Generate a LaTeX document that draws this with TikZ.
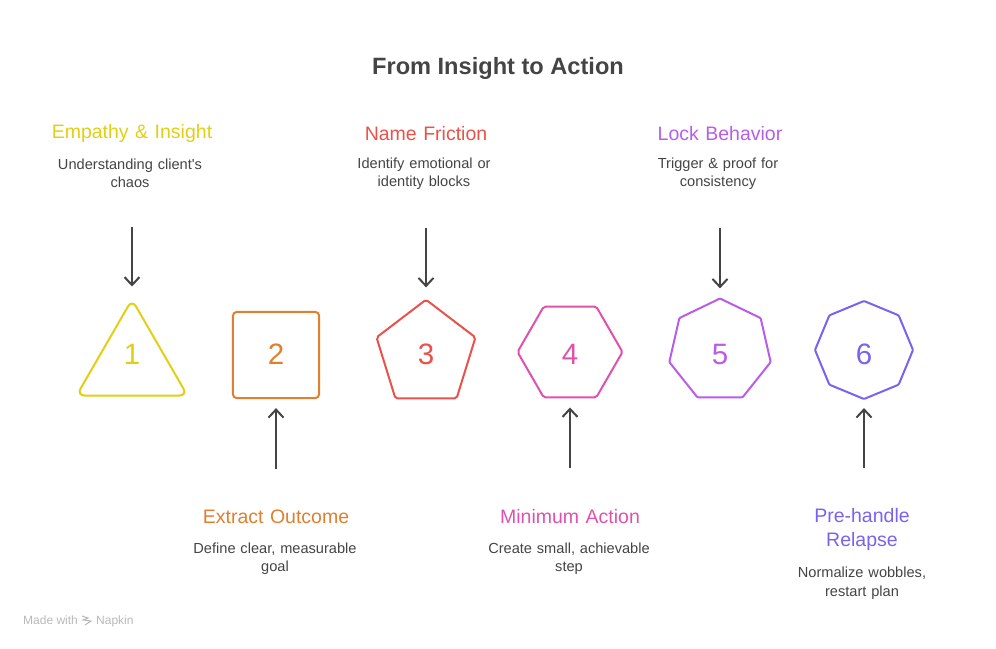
\documentclass[tikz,border=0pt]{standalone}
\usepackage{fontspec}
\setmainfont{Liberation Sans}
\usetikzlibrary{shapes.geometric,arrows.meta}
\definecolor{inkc}{HTML}{444444}
\definecolor{yelc}{HTML}{E2CF13}
\definecolor{orac}{HTML}{E07F2E}
\definecolor{redc}{HTML}{E8524A}
\definecolor{pinc}{HTML}{DE52AE}
\definecolor{purc}{HTML}{B95DE8}
\definecolor{vioc}{HTML}{7A62EE}
\tikzset{
  shapebox/.style={regular polygon,draw=#1,line width=2pt,inner sep=0pt,rounded corners=2pt},
  numlab/.style={text=#1,font=\fontsize{29.5}{30}\selectfont},
  headlab/.style={text=#1,align=center,font=\fontsize{19.5}{24}\selectfont,text width=180pt},
  desclab/.style={text=inkc,align=center,font=\fontsize{14.6}{18.5}\selectfont,text width=180pt},
  footlab/.style={text=black!28,font=\fontsize{12}{14}\selectfont,anchor=base west,inner sep=0pt},
  flow/.style={-{Straight Barb[length=8pt,width=15pt]},line width=2pt,draw=inkc}
}
\begin{document}
\begin{tikzpicture}[x=1pt,y=-1pt]
\useasboundingbox (0,0) rectangle (996,648);
\node[font=\fontsize{23.6}{30}\selectfont\bfseries,text=inkc] (title) at (498,68) {From Insight to Action};
% the six shapes
\node[shapebox=yelc,regular polygon sides=3,minimum size=128pt,rounded corners=8pt] (one) at (132,363.5) {};
\node[shapebox=orac,regular polygon sides=4,minimum size=122pt,rounded corners=4pt] (two) at (276,355) {};
\node[shapebox=redc,regular polygon sides=5,minimum size=104pt,yscale=1.05,transform shape] (three) at (426,354.3) {};
\node[shapebox=pinc,regular polygon sides=6,minimum size=105pt] (four) at (570,352) {};
\node[shapebox=purc,regular polygon sides=7,minimum size=104pt,rounded corners=1pt] (five) at (720,350.5) {};
\node[shapebox=vioc,regular polygon sides=8,shape border rotate=22.5,minimum size=98pt,rounded corners=1pt] (six) at (864,350) {};
% numbers
\foreach \num/\cx/\col in {1/132/yelc,2/276/orac,3/426/redc,4/570/pinc,5/720/purc,6/864/vioc}
  \node[numlab=\col] (num\num) at (\cx,354) {\num};
% upper labels
\node[headlab=yelc] (emphead) at (132,133.5) {Empathy \& Insight};
\node[desclab] (empdesc) at (130,173.5) {Understanding client\textquotesingle s\\chaos};
\node[headlab=redc] (namehead) at (426,133.5) {Name Friction};
\node[desclab] (namedesc) at (424,173.5) {Identify emotional or\\identity blocks};
\node[headlab=purc] (lockhead) at (720,133.5) {Lock Behavior};
\node[desclab] (lockdesc) at (718,173.5) {Trigger \& proof for\\consistency};
% lower labels
\node[headlab=orac] (exthead) at (276,517) {Extract Outcome};
\node[desclab] (extdesc) at (275,558.5) {Define clear, measurable\\goal};
\node[headlab=pinc] (minhead) at (570,517) {Minimum Action};
\node[desclab] (mindesc) at (569,558.5) {Create small, achievable\\step};
\node[headlab=vioc] (prehead) at (862,529) {Pre-handle\\Relapse};
\node[desclab] (predesc) at (862,583) {Normalize wobbles,\\restart plan};
% arrows
\draw[flow,shorten <=35pt,shorten >=11pt] (empdesc.south -| one.north) -- (one.north);
\draw[flow,shorten <=35pt,shorten >=11pt] (namedesc.south -| three.north) -- (three.north);
\draw[flow,shorten <=35pt,shorten >=9pt] (lockdesc.south -| five.north) -- (five.north);
\draw[flow,shorten <=38pt,shorten >=9pt] (exthead.north -| two.south) -- (two.south);
\draw[flow,shorten <=38pt,shorten >=9pt] (minhead.north -| four.south) -- (four.south);
\draw[flow,shorten <=36pt,shorten >=8pt] (prehead.north -| six.south) -- (six.south);
% footer mark
\node[footlab] (made) at (23,624) {Made with};
\node[footlab] (napkin) at (96,624) {Napkin};
\draw[black!28,line width=1pt] (82,616) -- (88,618) -- (83,620) -- (91,621) -- (85,625);
\end{tikzpicture}
\end{document}
